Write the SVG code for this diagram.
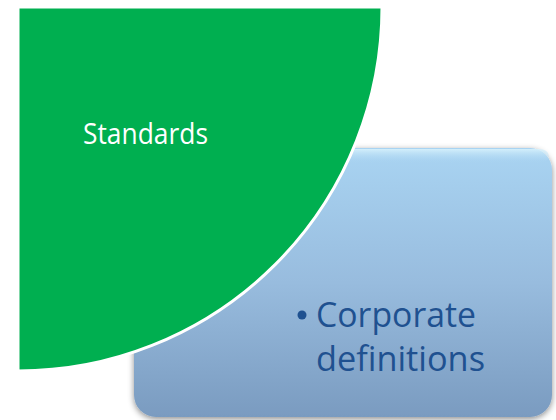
<svg xmlns="http://www.w3.org/2000/svg" width="556" height="420" viewBox="0 0 556 420">
<defs>
<linearGradient id="blueGrad" x1="0" y1="0" x2="0" y2="1">
<stop offset="0" stop-color="#A9D4F2"/>
<stop offset="0.5" stop-color="#98BCDE"/>
<stop offset="1" stop-color="#7A9BC0"/>
</linearGradient>
<linearGradient id="topHi" x1="0" y1="0" x2="0" y2="1">
<stop offset="0" stop-color="#D8F2FC" stop-opacity="0.9"/>
<stop offset="1" stop-color="#A9D4F2" stop-opacity="0"/>
</linearGradient>
<filter id="shadow" x="-10%" y="-10%" width="120%" height="120%">
<feGaussianBlur in="SourceAlpha" stdDeviation="3"/>
<feOffset dx="0" dy="2" result="b"/>
<feFlood flood-color="#000" flood-opacity="0.45"/>
<feComposite in2="b" operator="in"/>
<feMerge><feMergeNode/><feMergeNode in="SourceGraphic"/></feMerge>
</filter>
</defs>
<style>
.lbl{font-family:"Open Sans","Noto Sans","Liberation Sans",sans-serif;}
</style>
<rect width="556" height="420" fill="#ffffff"/>
<g id="corporate-definitions">
<rect x="134" y="148" width="418" height="269" rx="22" ry="22" fill="url(#blueGrad)" filter="url(#shadow)"/>
<rect x="137" y="149" width="412" height="14" rx="10" fill="url(#topHi)"/>
<circle cx="302" cy="315" r="4.5" fill="#1F5190"/>
<text class="lbl" x="316" y="327" font-size="34" fill="#1F5190" textLength="160" lengthAdjust="spacingAndGlyphs">Corporate</text>
<text class="lbl" x="316" y="371" font-size="34" fill="#1F5190" textLength="169" lengthAdjust="spacingAndGlyphs">definitions</text>
</g>
<g id="standards">
<path d="M18,7 L382,7 A364,364 0 0 1 18,371 Z" fill="#00AF50" stroke="#ffffff" stroke-width="3" stroke-linejoin="miter"/>
<text class="lbl" x="83" y="144" font-size="29" fill="#ffffff" textLength="125" lengthAdjust="spacingAndGlyphs">Standards</text>
</g>
<g id="connectors"/>
</svg>
